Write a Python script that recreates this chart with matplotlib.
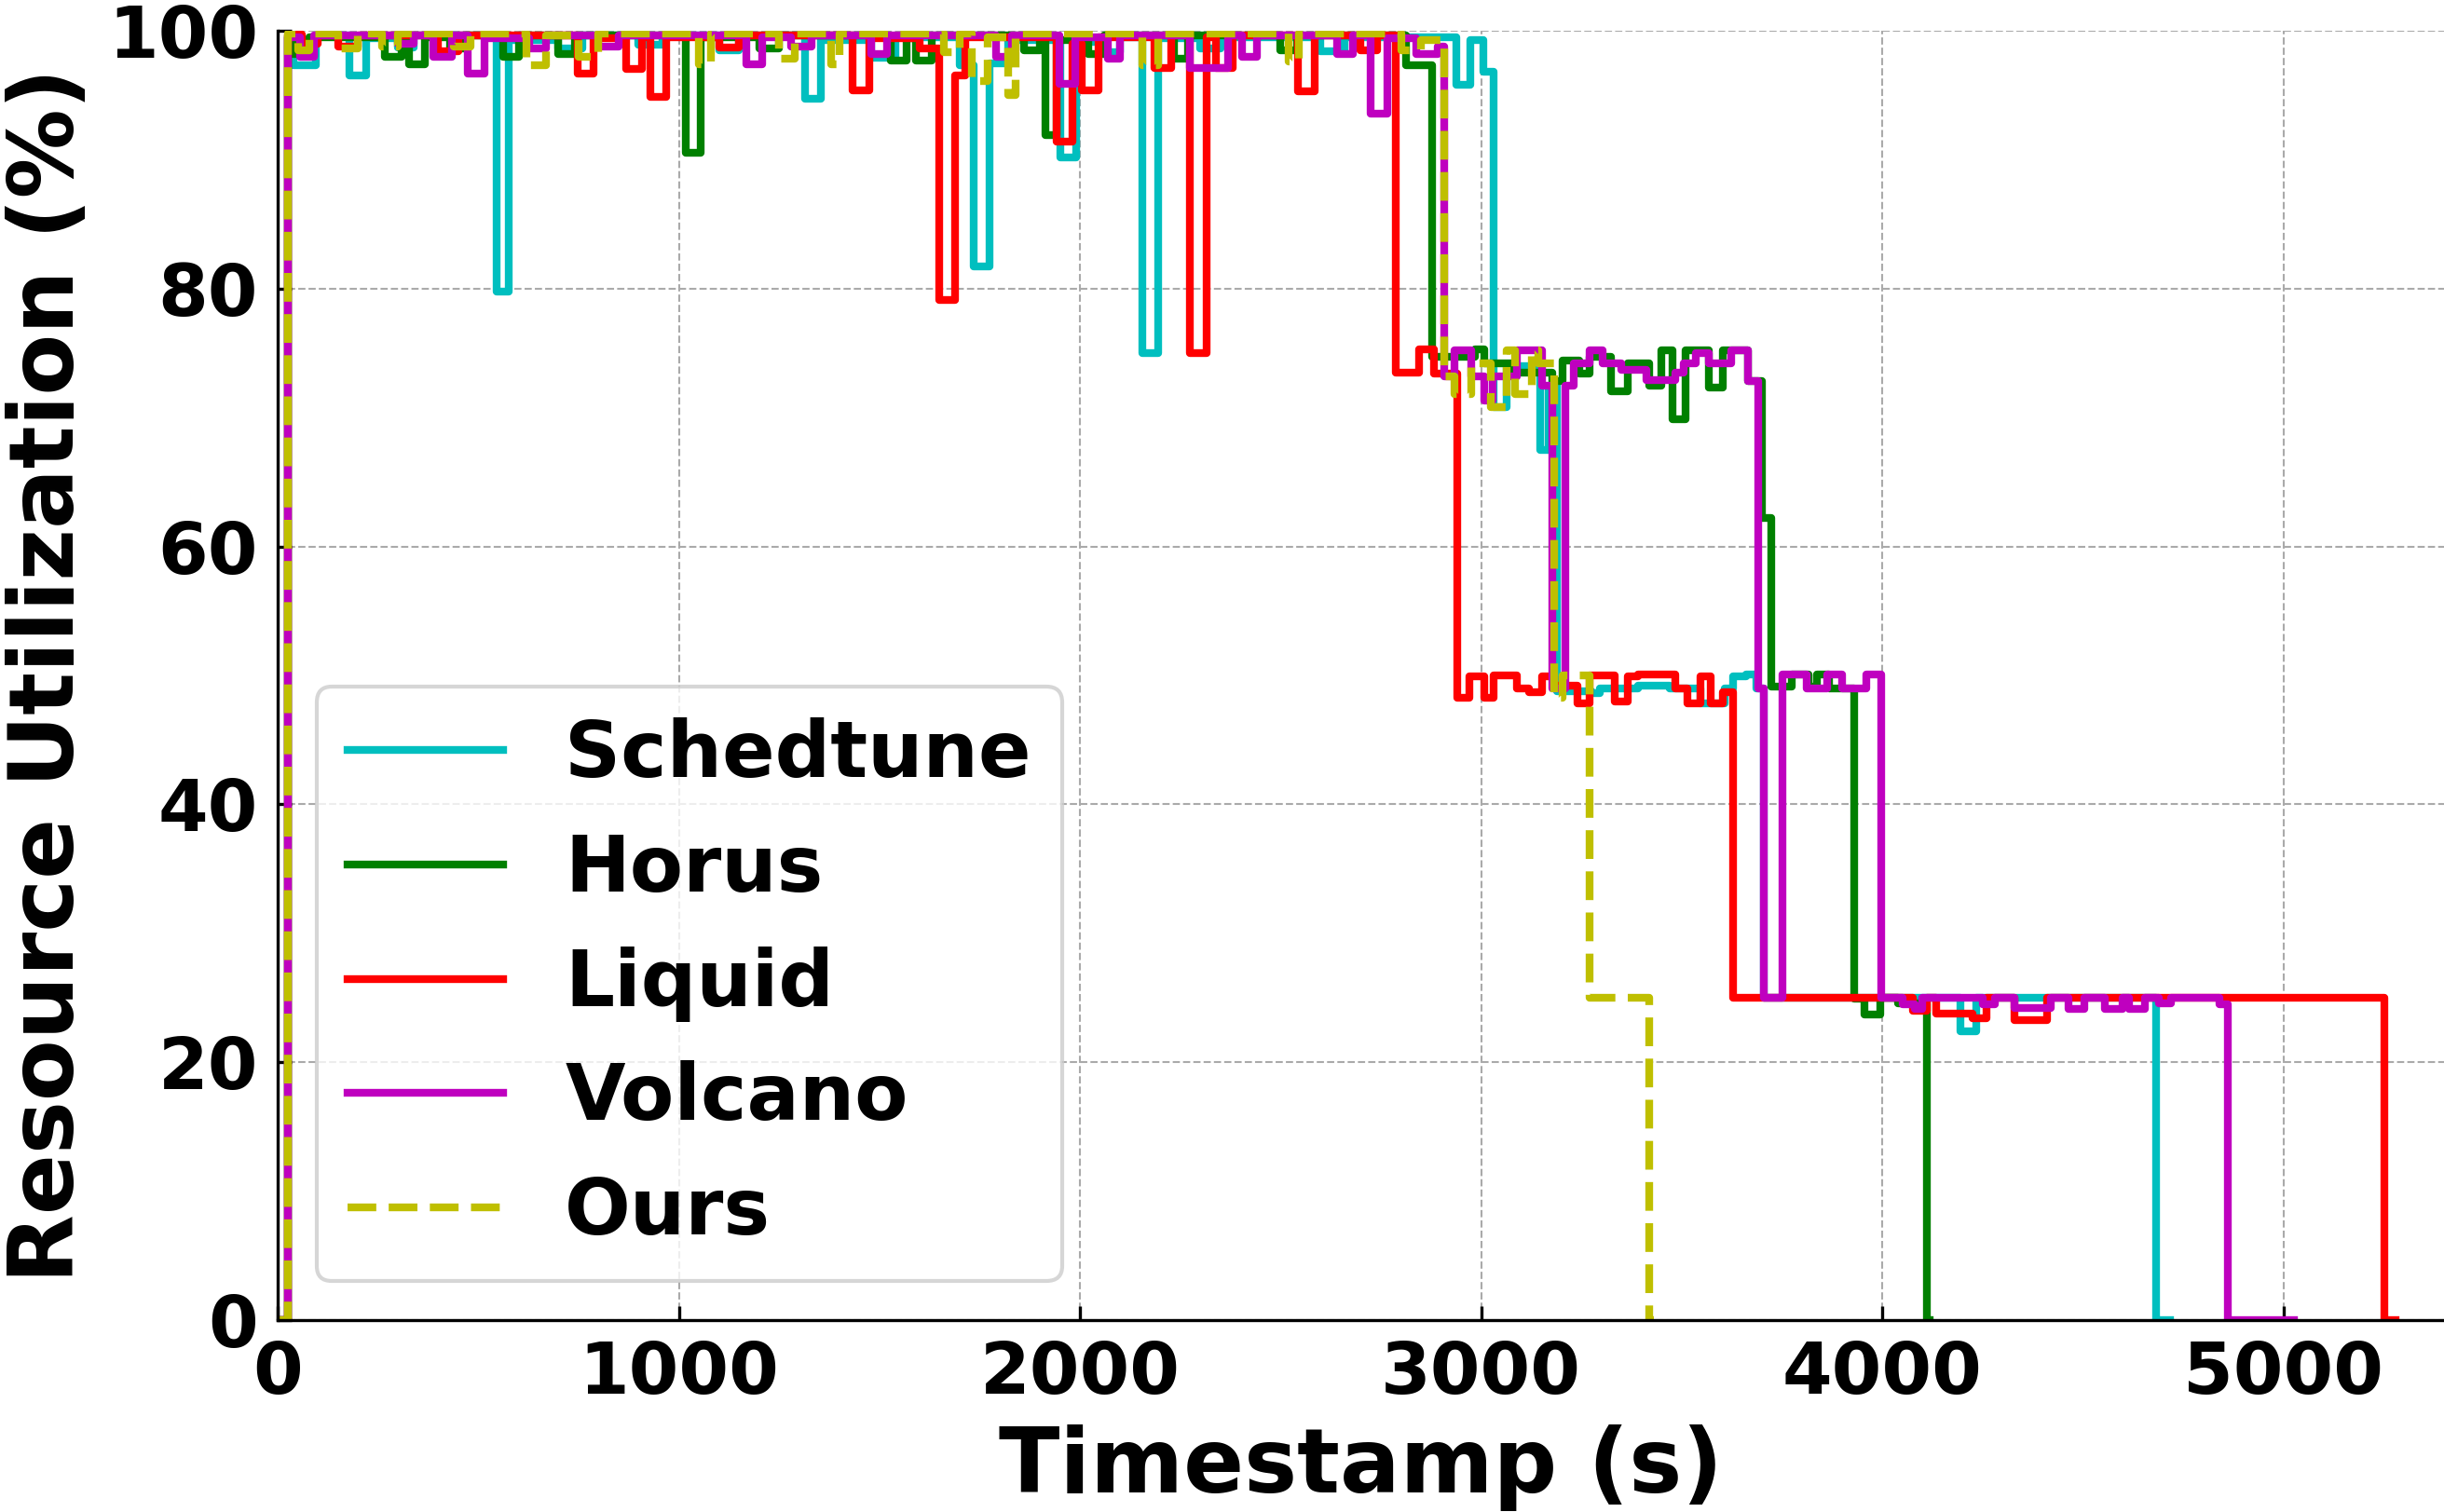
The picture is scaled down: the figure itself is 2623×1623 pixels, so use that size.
import matplotlib
matplotlib.use("Agg")
import matplotlib.pyplot as plt

# step breakpoints: value holds from each time until the next one
SCHEDTUNE_T = [0, 25, 40, 95, 180, 220, 300, 340, 545, 575, 700, 760, 900, 960,
               1100, 1150, 1315, 1355, 1480, 1540, 1700, 1735, 1775, 1820, 1950,
               1990, 2050, 2100, 2155, 2195, 2300, 2350, 2600, 2660, 2937, 2973,
               3005, 3031, 3064, 3147, 3168, 3190, 3276, 3296, 3390, 3470, 3546,
               3608, 3629, 3660, 3685, 3705, 4195, 4235, 4682, 4718]
SCHEDTUNE_U = [0, 99.5, 97.3, 99.6, 96.5, 99.4, 98.7, 99.6, 79.8, 99.3, 98.6, 99.6,
               98.9, 99.6, 98.5, 99.6, 94.7, 99.3, 97.9, 99.5, 97.3, 81.7, 97.5,
               99.3, 90.2, 99.1, 98.3, 99.5, 75.0, 99.4, 98.6, 99.5, 98.4, 99.5,
               95.8, 99.3, 96.8, 70.8, 74.0, 67.5, 72.5, 48.8, 48.6, 49.0, 49.2,
               49.0, 47.8, 49.0, 49.9, 50.1, 49.0, 25.0, 22.4, 25.0, 0, 0]

HORUS_T = [0, 25, 40, 80, 268, 308, 328, 368, 430, 470, 561, 601, 700, 740, 1018,
           1054, 1200, 1250, 1528, 1568, 1590, 1630, 1860, 1900, 1915, 1941, 2020,
           2060, 2235, 2270, 2500, 2540, 2813, 2877, 2985, 3007, 3080, 3177, 3204,
           3245, 3271, 3323, 3365, 3420, 3448, 3478, 3510, 3567, 3603, 3665, 3700,
           3722, 3775, 3815, 3837, 3868, 3930, 3956, 3996, 4040, 4110, 4118]
HORUS_U = [0, 99.6, 98.2, 99.5, 98.0, 99.6, 97.4, 99.5, 98.6, 99.6, 98.0, 99.6,
           98.2, 99.6, 90.5, 99.5, 98.6, 99.6, 97.7, 99.4, 97.7, 99.6, 98.5, 99.6,
           91.9, 99.3, 98.2, 99.6, 97.8, 99.6, 98.5, 99.6, 97.3, 74.7, 75.3, 74.2,
           73.5, 72.8, 74.4, 73.4, 74.7, 72.0, 74.2, 72.5, 75.2, 69.9, 75.2, 72.3,
           75.2, 72.8, 62.2, 49.1, 50.1, 49.1, 50.1, 49.0, 24.9, 23.7, 25.0, 24.6,
           0, 0]

LIQUID_T = [0, 25, 60, 100, 150, 200, 400, 450, 748, 788, 868, 908, 928, 968, 1100,
            1150, 1434, 1474, 1600, 1648, 1688, 1715, 1941, 1981, 2004, 2046, 2186,
            2227, 2274, 2316, 2340, 2380, 2544, 2585, 2700, 2740, 2787, 2846, 2883,
            2940, 2970, 3007, 3030, 3090, 3120, 3152, 3183, 3240, 3271, 3333, 3365,
            3390, 3484, 3515, 3546, 3572, 3603, 3629, 4076, 4110, 4135, 4225, 4260,
            4330, 4410, 5252, 5280]
LIQUID_U = [0, 99.7, 99.0, 99.6, 98.8, 99.6, 98.4, 99.6, 96.7, 99.4, 97.0, 99.5,
            94.9, 99.5, 98.7, 99.6, 95.4, 99.4, 98.6, 79.1, 96.5, 99.5, 91.4, 99.0,
            95.4, 99.5, 97.1, 99.6, 75.0, 99.5, 97.1, 99.6, 95.3, 99.6, 98.5, 99.6,
            73.5, 75.3, 73.4, 48.3, 49.9, 48.3, 50.0, 49.0, 48.7, 49.9, 49.2, 47.8,
            50.0, 48.0, 49.9, 50.1, 49.0, 47.8, 49.9, 47.8, 48.7, 25.0, 24.0, 25.0,
            23.8, 23.4, 25.0, 23.3, 25.0, 0, 0]

VOLCANO_T = [0, 25, 55, 90, 300, 340, 388, 435, 475, 515, 628, 668, 800, 850, 1168,
             1208, 1280, 1330, 1480, 1520, 1790, 1830, 1948, 1988, 2070, 2100, 2274,
             2370, 2405, 2440, 2640, 2680, 2725, 2766, 2839, 2891, 2908, 2934, 2976,
             3007, 3028, 3090, 3152, 3178, 3210, 3230, 3271, 3302, 3350, 3411, 3484,
             3505, 3536, 3567, 3624, 3665, 3691, 3705, 3750, 3812, 3863, 3900, 3960,
             3997, 4050, 4080, 4100, 4250, 4280, 4330, 4420, 4464, 4504, 4554, 4599,
             4614, 4654, 4690, 4720, 4840, 4861, 5025]
VOLCANO_U = [0, 99.5, 98.0, 99.6, 99.0, 99.6, 98.0, 99.6, 96.7, 99.4, 98.6, 99.6,
             98.8, 99.6, 97.4, 99.5, 98.8, 99.6, 98.2, 99.6, 98.0, 99.6, 95.9, 99.5,
             97.8, 99.6, 97.1, 99.6, 98.0, 99.6, 98.2, 99.6, 93.6, 99.4, 98.2, 98.8,
             73.2, 75.2, 73.2, 71.3, 73.2, 75.2, 72.5, 49.0, 72.5, 74.2, 75.2, 74.2,
             73.7, 72.9, 73.5, 74.2, 75.0, 74.2, 75.2, 72.8, 49.0, 25.0, 50.1, 49.0,
             50.1, 49.0, 50.1, 25.0, 24.5, 24.1, 25.0, 24.5, 25.0, 24.2, 25.0, 24.1,
             25.0, 24.1, 25.0, 24.1, 25.0, 24.6, 25.0, 24.5, 0, 0]

OURS_T = [0, 25, 50, 80, 150, 200, 260, 300, 440, 480, 620, 670, 750, 800, 1050,
          1080, 1250, 1290, 1380, 1400, 1660, 1700, 1730, 1770, 1820, 1840, 2155,
          2196, 2520, 2545, 2800, 2850, 2908, 2934, 2976, 3023, 3064, 3085, 3126,
          3142, 3183, 3204, 3271, 3420, 3430]
OURS_U = [0, 99.8, 98.5, 99.8, 98.6, 99.8, 98.8, 99.8, 98.8, 99.8, 97.3, 99.6,
          98.0, 99.8, 97.4, 99.8, 97.8, 99.8, 97.4, 99.8, 98.3, 99.8, 96.1, 99.5,
          95.0, 99.8, 97.3, 99.8, 97.6, 99.8, 98.5, 99.3, 73.2, 71.8, 74.2, 70.8,
          75.2, 71.8, 75.2, 74.2, 48.3, 50.0, 25.0, 0, 0]

SERIES = [
    ("Schedtune", SCHEDTUNE_T, SCHEDTUNE_U, "c", "-"),
    ("Horus", HORUS_T, HORUS_U, "g", "-"),
    ("Liquid", LIQUID_T, LIQUID_U, "r", "-"),
    ("Volcano", VOLCANO_T, VOLCANO_U, "m", "-"),
    ("Ours", OURS_T, OURS_U, "y", "--"),
]

plt.rcParams["font.family"] = ["DejaVu Sans"]
plt.rcParams["font.weight"] = "bold"

fig = plt.figure(figsize=(2623 / 300, 1623 / 300), dpi=300)
ax = fig.add_axes([0.1136, 0.1269, 0.8864, 0.8528])

for name, t, u, color, ls in SERIES:
    ax.plot(t, u, drawstyle="steps-post", color=color, linestyle=ls,
            linewidth=2.0, label=name)

ax.set_xlim(0, 5400)
ax.set_ylim(0, 100)
ax.set_xticks(range(0, 5001, 1000))
ax.set_yticks(range(0, 101, 20))
ax.grid(True, color="#aaaaaa", linestyle="--", linewidth=0.5)
ax.set_axisbelow(True)
for side in ("top", "right"):
    ax.spines[side].set_visible(False)
ax.tick_params(direction="in", labelsize=18.5, pad=5)
for lab in ax.get_xticklabels() + ax.get_yticklabels():
    lab.set_fontweight("bold")

ax.set_xlabel("Timestamp (s)", fontsize=23, fontweight="bold")
ax.set_ylabel("Resource Utilization (%)", fontsize=23, fontweight="bold")
ax.legend(loc="lower left", labelspacing=0.5,
          prop={"size": 20, "weight": "bold"})

fig.savefig("out.png", dpi=300)
